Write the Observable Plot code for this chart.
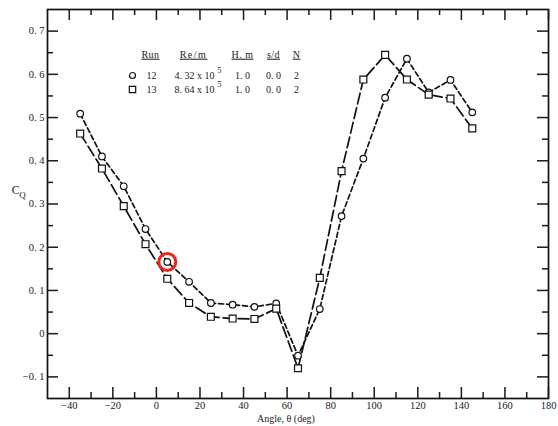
<!DOCTYPE html>
<html>
<head>
<meta charset="utf-8">
<script src="https://cdn.jsdelivr.net/npm/d3@7"></script>
<script src="https://cdn.jsdelivr.net/npm/@observablehq/plot@0.6"></script>
<style>
  body { margin: 0; background: #fff; }
  #chart svg { font-family: "Liberation Serif", "DejaVu Serif", serif; }
</style>
</head>
<body>
<div id="chart"></div>
<script>
// Discharge coefficient C_Q versus angle, two runs
const angles = [-35, -25, -15, -5, 5, 15, 25, 35, 45, 55, 65, 75, 85, 95, 105, 115, 125, 135, 145];
const run12 = [0.509, 0.410, 0.341, 0.242, 0.166, 0.120, 0.071, 0.067, 0.062, 0.070, -0.051, 0.057, 0.272, 0.405, 0.546, 0.636, 0.558, 0.587, 0.512];
const run13 = [0.463, 0.382, 0.295, 0.207, 0.127, 0.071, 0.039, 0.035, 0.034, 0.058, -0.080, 0.129, 0.376, 0.588, 0.645, 0.588, 0.553, 0.544, 0.475];

// Highlighted reading (run 12)
const markedAngle = 5;

// Axis ticks
const xMajor = [-40, -20, 0, 20, 40, 60, 80, 100, 120, 140, 160, 180];
const xMinor = [-30, -10, 10, 30, 50, 70, 90, 110, 130, 150, 170];
const yMajor = [-0.1, 0, 0.1, 0.2, 0.3, 0.4, 0.5, 0.6, 0.7];
const yMinor = [-0.05, 0.05, 0.15, 0.25, 0.35, 0.45, 0.55, 0.65];

// Legend table
const legendHead = ["Run", "Re/m", "H. m", "s/d", "N"];
const legendRun = ["12", "13"];
const legendRe = ["4. 32 x 10", "8. 64 x 10"];
const legendExp = ["5", "5"];
const legendH = ["1. 0", "1. 0"];
const legendSD = ["0. 0", "0. 0"];
const legendN = ["2", "2"];

const xLabel = "Angle, \u03b8 (deg)";

const W = 558, H = 426;
const mL = 47, mR = 10, mT = 9, mB = 28;
const pw = W - mL - mR, ph = H - mT - mB;
const majorLen = 11, minorLen = 6;

const s12 = angles.map((a, i) => ({angle: a, cq: run12[i]}));
const s13 = angles.map((a, i) => ({angle: a, cq: run13[i]}));
const marked = s12.filter(d => d.angle === markedAngle);

const fmt = d => d === 0 ? "0" : d3.format(".1f")(d).replace(".", ". ");

// legend layout: offsets from the frame's top-left corner (text centres)
const colX = [103, 146, 195, 226, 249];
const headDy = 45, rowDy = [66, 80];
const txt = {frameAnchor: "top-left", textAnchor: "middle", lineAnchor: "middle", fontSize: 10, fill: "#1a1a1a"};

const marks = [
  Plot.frame({stroke: "#111", strokeWidth: 1.7}),
  // inward tick marks on all four sides
  Plot.tickX(xMajor, {x: d => d, insetTop: ph - majorLen, strokeWidth: 1.5}),
  Plot.tickX(xMinor, {x: d => d, insetTop: ph - minorLen, strokeWidth: 1.5}),
  Plot.tickX(xMajor, {x: d => d, insetBottom: ph - majorLen, strokeWidth: 1.5}),
  Plot.tickX(xMinor, {x: d => d, insetBottom: ph - minorLen, strokeWidth: 1.5}),
  Plot.tickY(yMajor, {y: d => d, insetRight: pw - majorLen, strokeWidth: 1.5}),
  Plot.tickY(yMinor, {y: d => d, insetRight: pw - minorLen, strokeWidth: 1.5}),
  Plot.tickY(yMajor, {y: d => d, insetLeft: pw - majorLen, strokeWidth: 1.5}),
  Plot.tickY(yMinor, {y: d => d, insetLeft: pw - minorLen, strokeWidth: 1.5}),
  Plot.axisX({ticks: xMajor, tickSize: 0, tickPadding: 3, label: null, fontSize: 10.5}),
  Plot.axisY({ticks: yMajor, tickSize: 0, tickPadding: 3, label: null, tickFormat: fmt, fontSize: 10.5}),
  // data lines and symbols
  Plot.line(s12, {x: "angle", y: "cq", stroke: "#111", strokeWidth: 1.7, strokeDasharray: "5,3"}),
  Plot.line(s13, {x: "angle", y: "cq", stroke: "#111", strokeWidth: 1.7, strokeDasharray: "11,4"}),
  Plot.dot(s12, {x: "angle", y: "cq", r: 3.3, fill: "white", stroke: "#111", strokeWidth: 1.2}),
  Plot.dot(s13, {x: "angle", y: "cq", r: 3.9, symbol: "square", fill: "white", stroke: "#111", strokeWidth: 1.2}),
  Plot.dot(marked, {x: "angle", y: "cq", r: 8.5, fill: "none", stroke: "#e8261c", strokeWidth: 3}),
  // axis titles
  Plot.text([xLabel], {frameAnchor: "bottom", textAnchor: "middle", lineAnchor: "middle", dx: -12, dy: 20, fontSize: 10, fill: "#1a1a1a"}),
  Plot.text(["C"], {frameAnchor: "left", textAnchor: "middle", lineAnchor: "middle", dx: -32, dy: -14, fontSize: 11.5, fill: "#1a1a1a"}),
  Plot.text(["Q"], {frameAnchor: "left", textAnchor: "middle", lineAnchor: "middle", dx: -25, dy: -9, fontSize: 9, fill: "#1a1a1a"})
];

// legend headings
legendHead.forEach((h, j) => {
  marks.push(Plot.text([h], {...txt, dx: colX[j], dy: headDy}));
});
// legend rows
[legendRun, legendH, legendSD, legendN].forEach((col, k) => {
  const j = [0, 2, 3, 4][k];
  col.forEach((v, i) => marks.push(Plot.text([v], {...txt, dx: colX[j] + (j === 0 ? 1 : 0), dy: rowDy[i]})));
});
legendRe.forEach((v, i) => {
  marks.push(Plot.text([v], {...txt, textAnchor: "start", dx: 127, dy: rowDy[i]}));
  marks.push(Plot.text([legendExp[i]], {...txt, textAnchor: "start", dx: 170, dy: rowDy[i] - 5, fontSize: 8}));
});
marks.push(Plot.dot([0], {frameAnchor: "top-left", dx: 85, dy: rowDy[0], r: 3, fill: "white", stroke: "#111", strokeWidth: 1.2}));
marks.push(Plot.dot([0], {frameAnchor: "top-left", dx: 85, dy: rowDy[1], r: 3.6, symbol: "square", fill: "white", stroke: "#111", strokeWidth: 1.2}));

const chart = Plot.plot({
  width: W, height: H,
  marginLeft: mL, marginRight: mR, marginTop: mT, marginBottom: mB,
  x: {domain: [-50, 180]},
  y: {domain: [-0.15, 0.75]},
  style: {background: "white", color: "#1a1a1a", fontFamily: "Liberation Serif, DejaVu Serif, serif"},
  marks
});

// underline the legend column headings
d3.select(chart).selectAll("text")
  .filter(function () { return legendHead.includes(this.textContent); })
  .attr("text-decoration", "underline")
  .attr("letter-spacing", function () { return this.textContent === "Re/m" ? 1.5 : 0.5; });

document.getElementById("chart").appendChild(chart);
</script>
</body>
</html>
